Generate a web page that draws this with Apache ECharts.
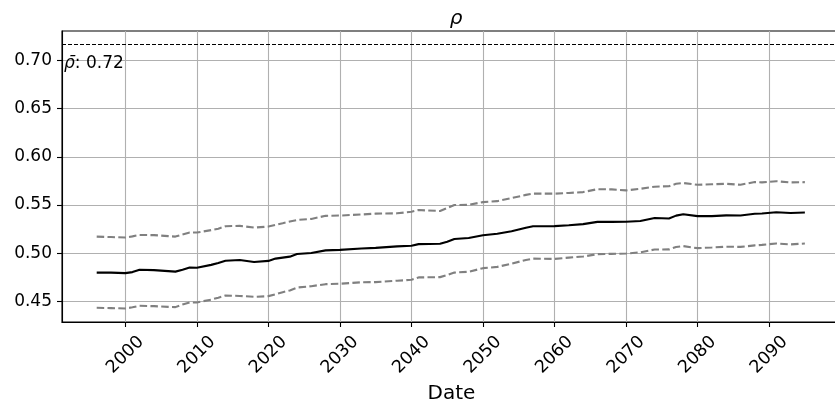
<!DOCTYPE html>
<html>
<head>
<meta charset="utf-8">
<script src="https://cdn.jsdelivr.net/npm/echarts@6/dist/echarts.min.js"></script>
<style>
  html, body { margin: 0; padding: 0; background: #ffffff; }
  #chart { width: 835px; height: 407px; }
</style>
</head>
<body>
<div id="chart"></div>
<script>
// Rolling correlation estimate with its upper / lower bounds
const years = [1996, 1998, 2000, 2001, 2002, 2004, 2006, 2007, 2008, 2009, 2010, 2012, 2013, 2014,
  2016, 2018, 2020, 2021, 2022, 2023, 2024, 2026, 2028, 2030, 2033, 2035, 2038, 2040, 2041, 2044,
  2045, 2046, 2048, 2050, 2052, 2054, 2056, 2057, 2060, 2062, 2064, 2066, 2068, 2070, 2072, 2074,
  2076, 2077, 2078, 2080, 2082, 2084, 2086, 2088, 2089, 2091, 2093, 2095];

const rhoMean = [0.4800, 0.4800, 0.4794, 0.4805, 0.4830, 0.4825, 0.4815, 0.4810, 0.4830, 0.4852,
  0.4850, 0.4880, 0.4900, 0.4922, 0.4930, 0.4910, 0.4921, 0.4945, 0.4955, 0.4965, 0.4992, 0.5003,
  0.5030, 0.5035, 0.5050, 0.5056, 0.5072, 0.5078, 0.5095, 0.5098, 0.5120, 0.5148, 0.5158, 0.5186,
  0.5203, 0.5228, 0.5265, 0.5280, 0.5281, 0.5290, 0.5302, 0.5325, 0.5325, 0.5327, 0.5335, 0.5365,
  0.5360, 0.5390, 0.5405, 0.5385, 0.5385, 0.5393, 0.5392, 0.5410, 0.5412, 0.5425, 0.5418, 0.5422];

const rhoUpper = [0.5173, 0.5168, 0.5163, 0.5175, 0.5190, 0.5188, 0.5178, 0.5173, 0.5195, 0.5215,
  0.5215, 0.5240, 0.5255, 0.5280, 0.5284, 0.5266, 0.5277, 0.5295, 0.5312, 0.5330, 0.5345, 0.5356,
  0.5388, 0.5391, 0.5402, 0.5411, 0.5414, 0.5430, 0.5448, 0.5438, 0.5470, 0.5500, 0.5502, 0.5530,
  0.5540, 0.5572, 0.5605, 0.5618, 0.5618, 0.5625, 0.5634, 0.5664, 0.5662, 0.5652, 0.5668, 0.5690,
  0.5695, 0.5720, 0.5728, 0.5710, 0.5715, 0.5720, 0.5710, 0.5738, 0.5735, 0.5747, 0.5734, 0.5737];

const rhoLower = [0.4435, 0.4432, 0.4428, 0.4440, 0.4456, 0.4452, 0.4445, 0.4442, 0.4470, 0.4490,
  0.4490, 0.4520, 0.4540, 0.4562, 0.4558, 0.4549, 0.4556, 0.4575, 0.4597, 0.4615, 0.4645, 0.4659,
  0.4680, 0.4684, 0.4700, 0.4701, 0.4716, 0.4725, 0.4750, 0.4753, 0.4775, 0.4800, 0.4808, 0.4846,
  0.4859, 0.4893, 0.4930, 0.4945, 0.4942, 0.4955, 0.4966, 0.4991, 0.4994, 0.4997, 0.5010, 0.5039,
  0.5040, 0.5065, 0.5074, 0.5053, 0.5060, 0.5068, 0.5066, 0.5082, 0.5087, 0.5101, 0.5092, 0.5101];

// Long-run average correlation
const rhoBar = 0.7166;

const xTicks = [2000, 2010, 2020, 2030, 2040, 2050, 2060, 2070, 2080, 2090];
const yTicks = [0.45, 0.50, 0.55, 0.60, 0.65, 0.70];

const FONT = 'DejaVu Sans';
const pairs = vals => years.map((y, i) => [y, vals[i]]);

const chart = echarts.init(document.getElementById('chart'), null, { renderer: 'canvas' });

const gridLine = { show: true, lineStyle: { color: '#b0b0b0', width: 1.1 } };

chart.setOption({
  animation: false,
  backgroundColor: '#ffffff',
  title: {
    text: 'ρ',
    left: 451,
    top: 4,
    textAlign: 'center',
    textStyle: { fontFamily: FONT, fontStyle: 'italic', fontWeight: 'normal', fontSize: 20, color: '#000' }
  },
  grid: {
    left: 62, top: 31, width: 779, height: 291,
    outerBoundsMode: 'none',
    containLabel: false,
    show: true, borderColor: '#000', borderWidth: 1.1, backgroundColor: 'transparent'
  },
  xAxis: {
    type: 'value',
    min: 1991.15,
    max: 2100.05,
    name: 'Date',
    nameLocation: 'middle',
    nameGap: 58,
    nameTextStyle: { fontFamily: FONT, fontSize: 20, color: '#000' },
    axisLine: { show: true, lineStyle: { color: '#000', width: 1.1 } },
    axisTick: { show: true, inside: false, length: 5, customValues: xTicks, lineStyle: { color: '#000', width: 1.1 } },
    axisLabel: {
      customValues: xTicks,
      rotate: 45,
      align: 'center',
      verticalAlign: 'middle',
      margin: 33,
      fontFamily: FONT, fontSize: 17.5, color: '#000',
      formatter: v => String(v)
    },
    splitLine: gridLine
  },
  yAxis: {
    type: 'value',
    min: 0.4288,
    max: 0.7303,
    axisLine: { show: true, lineStyle: { color: '#000', width: 1.1 } },
    axisTick: { show: true, inside: false, length: 5, customValues: yTicks, lineStyle: { color: '#000', width: 1.1 } },
    axisLabel: {
      customValues: yTicks,
      margin: 10,
      fontFamily: FONT, fontSize: 17, color: '#000',
      formatter: v => v.toFixed(2)
    },
    splitLine: gridLine
  },
  series: [
    {
      name: 'upper',
      type: 'line',
      data: pairs(rhoUpper),
      showSymbol: false,
      lineStyle: { color: '#808080', width: 2.1, type: [7.5, 3.3] },
      z: 3
    },
    {
      name: 'lower',
      type: 'line',
      data: pairs(rhoLower),
      showSymbol: false,
      lineStyle: { color: '#808080', width: 2.1, type: [7.5, 3.3] },
      z: 3
    },
    {
      name: 'mean',
      type: 'line',
      data: pairs(rhoMean),
      showSymbol: false,
      lineStyle: { color: '#000000', width: 2.1 },
      z: 4,
      markLine: {
        silent: true,
        symbol: 'none',
        precision: 4,
        lineStyle: { color: '#000', width: 1, type: [4, 2] },
        label: {
          show: true,
          position: 'insideStartBottom',
          distance: [2, 11],
          formatter: () => '{r|ρ̄}: ' + rhoBar.toFixed(2),
          fontFamily: FONT, fontSize: 17, color: '#000',
          rich: { r: { fontFamily: FONT, fontStyle: 'italic', fontSize: 17, color: '#000' } }
        },
        data: [{ yAxis: rhoBar }]
      }
    }
  ]
});
</script>
</body>
</html>
